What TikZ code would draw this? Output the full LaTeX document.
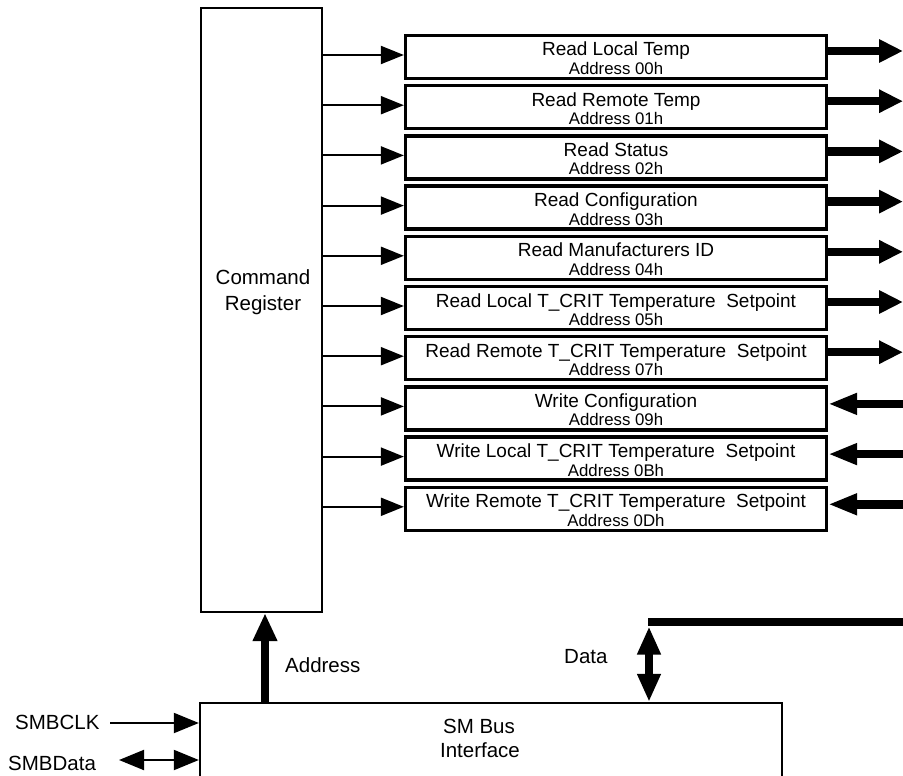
\documentclass[tikz,border=0pt]{standalone}
\usepackage{fontspec}
\setmainfont{Liberation Sans}
\usetikzlibrary{arrows.meta}

\tikzset{
  block/.style={draw,line width=2.3pt,inner sep=0pt},
  regbox/.style={draw,line width=3.3pt,minimum width=421pt,minimum height=43pt,inner sep=0pt},
  regname/.style={font=\fontsize{19}{22}\selectfont,inner sep=0pt,anchor=base},
  regaddr/.style={font=\fontsize{16.8}{19}\selectfont,inner sep=0pt,anchor=base},
  lbl/.style={font=\fontsize{20.5}{24}\selectfont,inner sep=0pt,anchor=base},
  ctrl/.style={line width=2pt,-{Triangle[length=23pt,width=18pt]}},
  pin/.style={line width=2pt,-{Triangle[length=25pt,width=20pt]}},
  pinboth/.style={line width=2pt,{Triangle[length=25pt,width=20pt]}-{Triangle[length=25pt,width=20pt]}},
  outbus/.style={line width=8.5pt,-{Triangle[length=24pt,width=22pt]}},
  inbus/.style={line width=8.5pt,-{Triangle[length=29pt,width=20pt]}},
  upbus/.style={line width=8.5pt,-{Triangle[length=28pt,width=23pt]}},
  bothbus/.style={line width=8.5pt,{Triangle[length=28pt,width=22pt]}-{Triangle[length=28pt,width=22pt]}}
}

\begin{document}
\begin{tikzpicture}[x=1pt,y=-1pt]
\useasboundingbox (0,0) rectangle (903,776);
\coordinate (edge) at (903,0);

% command register
\node[block,minimum width=121pt,minimum height=604pt] (cmd) at (261.5,310) {};
\node[lbl] (cmd1) at (263,284) {Command};
\node[lbl] (cmd2) at (263,310) {Register};

% register boxes
\foreach \i/\name/\addr in {
  1/Read Local Temp/00h,
  2/Read Remote Temp/01h,
  3/Read Status/02h,
  4/Read Configuration/03h,
  5/Read Manufacturers ID/04h,
  6/Read Local T\_CRIT Temperature\ \ Setpoint/05h,
  7/Read Remote T\_CRIT Temperature\ \ Setpoint/07h,
  8/Write Configuration/09h,
  9/Write Local T\_CRIT Temperature\ \ Setpoint/0Bh,
  10/Write Remote T\_CRIT Temperature\ \ Setpoint/0Dh}{
  \node[regbox] (reg\i) at (616,{57+50.2*(\i-1)}) {};
  \node[regname] (name\i) at ([yshift=1pt]reg\i.center) {\name};
  \node[regaddr] (addr\i) at ([yshift=-17.5pt]reg\i.center) {Address \addr};
  \draw[ctrl] ([yshift=2pt]reg\i.west -| cmd.east) -- ([yshift=2pt]reg\i.west);
}

% read registers drive the bus, write registers take from it
\foreach \i in {1,...,7}
  \draw[outbus] ([yshift=6pt]reg\i.east) -- ([yshift=6pt]reg\i.east -| edge);
\foreach \i in {8,9,10}
  \draw[inbus] ([yshift=4.5pt]reg\i.east -| edge) -- ([yshift=4.5pt]reg\i.east);

% SM bus interface
\node[block,minimum width=582pt,minimum height=97pt] (sm) at (491,751.5) {};
\node[lbl] (sm1) at (479,733) {SM Bus};
\node[lbl] (sm2) at (480,757) {Interface};

\draw[upbus] ([xshift=3.5pt]cmd.south |- sm.north) -- ([xshift=3.5pt]cmd.south);
\node[lbl,anchor=base west] (addrlbl) at (285,672) {Address};

\coordinate (busleft) at (648,622);
\coordinate (datatop) at (649,626.5);
\draw[line width=8.5pt] (busleft) -- (busleft -| edge);
\draw[bothbus] (sm.north -| datatop) -- (datatop);
\node[lbl,anchor=base west] (datalbl) at (564,663) {Data};

\coordinate (clk) at (110,723);
\coordinate (sda) at (119,760);
\draw[pin] (clk) -- (clk -| sm.west);
\draw[pinboth] (sda) -- (sda -| sm.west);
\node[lbl,anchor=base west] (clklbl) at (15,729) {SMBCLK};
\node[lbl,anchor=base west] (sdalbl) at (8,770) {SMBData};
\end{tikzpicture}
\end{document}
